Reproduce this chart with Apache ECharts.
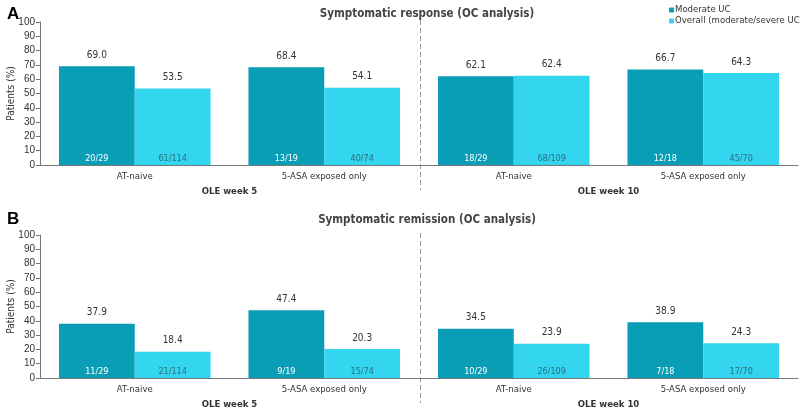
<!DOCTYPE html>
<html>
<head>
<meta charset="utf-8">
<script src="https://cdn.jsdelivr.net/npm/echarts@6/dist/echarts.min.js"></script>
<style>
    html, body { margin: 0; padding: 0; background: #fff; }
    #main { width: 800px; height: 414px; }
</style>
</head>
<body>
<div id="main"></div>
<script>
// categories (4 groups: 2 subgroups per OLE week)
var categories = ['AT-naive', '5-ASA exposed only', 'AT-naive', '5-ASA exposed only'];
var weekLabels = ['OLE week 5', 'OLE week 10'];
var seriesNames = ['Moderate UC', 'Overall (moderate/severe UC)'];

// panel A - symptomatic response
var respModerate = [69.0, 68.4, 62.1, 66.7];
var respOverall = [53.5, 54.1, 62.4, 64.3];
var respModerateN = ['20/29', '13/19', '18/29', '12/18'];
var respOverallN = ['61/114', '40/74', '68/109', '45/70'];

// panel B - symptomatic remission
var remModerate = [37.9, 47.4, 34.5, 38.9];
var remOverall = [18.4, 20.3, 23.9, 24.3];
var remModerateN = ['11/29', '9/19', '10/29', '7/18'];
var remOverallN = ['21/114', '15/74', '26/109', '17/70'];

var colorDark = '#0a9db6';
var colorLight = '#33d5ef';
var font = "'DejaVu Sans Condensed', 'DejaVu Sans'";

var chart = echarts.init(document.getElementById('main'));

var grids = [
    { left: 40, right: 2, top: 22, height: 143, outerBoundsMode: 'none', containLabel: false },
    { left: 40, right: 2, top: 235, height: 143, outerBoundsMode: 'none', containLabel: false }
];

function makeBars(idx, moderate, overall, moderateN, overallN) {
    var zeros = moderate.map(function() { return 0; });
    return [{
        // fraction labels at the bottom of the dark bars
        name: seriesNames[0] + ' n', type: 'bar', stack: 'm' + idx,
        xAxisIndex: idx * 2, yAxisIndex: idx,
        data: zeros, itemStyle: { color: colorDark }, silent: true,
        label: {
            show: true, position: 'top', distance: 2,
            fontFamily: font, fontSize: 9, color: '#ffffff',
            formatter: function(p) { return moderateN[p.dataIndex]; }
        }
    }, {
        name: seriesNames[0], type: 'bar', stack: 'm' + idx,
        xAxisIndex: idx * 2, yAxisIndex: idx,
        data: moderate, itemStyle: { color: colorDark },
        label: {
            show: true, position: 'top', distance: 6,
            fontFamily: font, fontSize: 10, color: '#333',
            formatter: function(p) { return p.value.toFixed(1); }
        }
    }, {
        name: seriesNames[1] + ' n', type: 'bar', stack: 'o' + idx,
        xAxisIndex: idx * 2, yAxisIndex: idx,
        data: zeros, itemStyle: { color: colorLight }, silent: true,
        label: {
            show: true, position: 'top', distance: 2,
            fontFamily: font, fontSize: 9, color: '#2a7080',
            formatter: function(p) { return overallN[p.dataIndex]; }
        }
    }, {
        name: seriesNames[1], type: 'bar', stack: 'o' + idx,
        xAxisIndex: idx * 2, yAxisIndex: idx,
        data: overall, itemStyle: { color: colorLight },
        barGap: '0%', barCategoryGap: '20%',
        label: {
            show: true, position: 'top', distance: 6,
            fontFamily: font, fontSize: 10, color: '#333',
            formatter: function(p) { return p.value.toFixed(1); }
        }
    }];
}

function makeXAxes(idx) {
    return [{
        type: 'category', gridIndex: idx, data: categories,
        axisLine: { lineStyle: { color: '#777' } },
        axisTick: { show: false },
        axisLabel: { fontFamily: font, fontSize: 9.5, color: '#333', margin: 7 }
    }, {
        type: 'category', gridIndex: idx, data: weekLabels, position: 'bottom',
        axisLine: { show: false }, axisTick: { show: false },
        axisLabel: { fontFamily: font, fontSize: 9.5, fontWeight: 'bold', color: '#333', margin: 22 }
    }];
}

function makeYAxis(idx) {
    return {
        type: 'value', gridIndex: idx, min: 0, max: 100, interval: 10,
        name: 'Patients (%)', nameLocation: 'middle', nameGap: 24, nameMoveOverlap: false,
        nameTextStyle: { fontFamily: font, fontSize: 10, color: '#333' },
        axisLine: { show: true, lineStyle: { color: '#777' } },
        axisTick: { show: true, length: 4, lineStyle: { color: '#777' } },
        splitLine: { show: false },
        axisLabel: { fontFamily: 'Liberation Sans', fontSize: 10, color: '#333', margin: 5 }
    };
}

var option = {
    animation: false,
    textStyle: { fontFamily: font },
    title: [{
        text: 'Symptomatic response (OC analysis)', left: 422, top: 3, textAlign: 'center',
        textStyle: { fontFamily: font, fontSize: 11.5, fontWeight: 'bold', color: '#444' }
    }, {
        text: 'Symptomatic remission (OC analysis)', left: 422, top: 209, textAlign: 'center',
        textStyle: { fontFamily: font, fontSize: 11.5, fontWeight: 'bold', color: '#444' }
    }, {
        text: 'A', left: 2, top: 1,
        textStyle: { fontFamily: 'Liberation Sans', fontSize: 17, fontWeight: 'bold', color: '#000' }
    }, {
        text: 'B', left: 2, top: 206,
        textStyle: { fontFamily: 'Liberation Sans', fontSize: 17, fontWeight: 'bold', color: '#000' }
    }],
    legend: {
        data: seriesNames, orient: 'vertical', left: 664, top: 0,
        itemWidth: 5, itemHeight: 5, itemGap: 1,
        textStyle: { fontFamily: font, fontSize: 9.5, color: '#333', padding: [0, 0, 0, -4] }
    },
    grid: grids,
    xAxis: makeXAxes(0).concat(makeXAxes(1)),
    yAxis: [makeYAxis(0), makeYAxis(1)],
    series: makeBars(0, respModerate, respOverall, respModerateN, respOverallN)
        .concat(makeBars(1, remModerate, remOverall, remModerateN, remOverallN))
};

chart.setOption(option);

// dashed separator between OLE week 5 and week 10 groups
var dividers = [];
[0, 1].forEach(function(i) {
    var x1 = chart.convertToPixel({ xAxisIndex: i * 2 }, 1);
    var x2 = chart.convertToPixel({ xAxisIndex: i * 2 }, 2);
    var xm = Math.round((x1 + x2) / 2) + 1.5;
    var yTop = chart.convertToPixel({ yAxisIndex: i }, 100);
    var yBot = chart.convertToPixel({ yAxisIndex: i }, 0);
    dividers.push({
        type: 'line',
        shape: { x1: xm, y1: yTop - 2, x2: xm, y2: yBot + 25 },
        style: { stroke: '#999', lineWidth: 1, lineDash: [5, 3] },
        silent: true
    });
});
chart.setOption({ graphic: dividers });
</script>
</body>
</html>
